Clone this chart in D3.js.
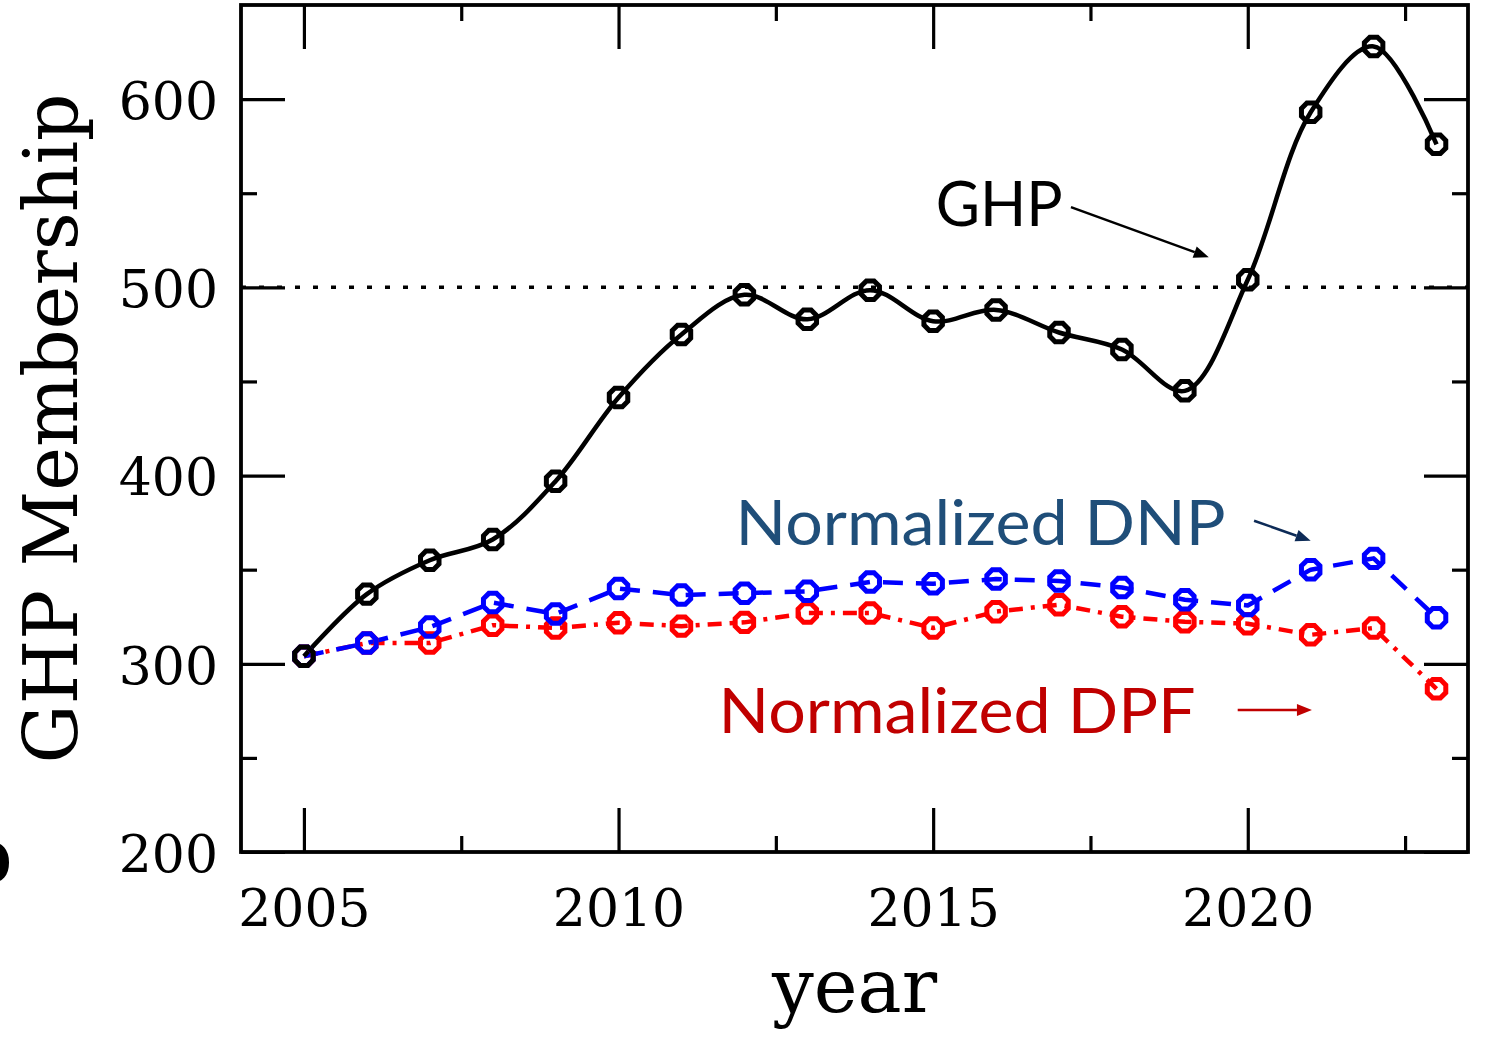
<!DOCTYPE html>
<html>
<head>
<meta charset="utf-8">
<script src="https://cdn.jsdelivr.net/npm/d3@7"></script>
<style>
  html, body { margin: 0; padding: 0; background: #fff; }
  svg { display: block; }
</style>
</head>
<body>
<svg id="chart" width="1486" height="1038"></svg>
<script>
// ---------------- data ----------------
const years = [2005, 2006, 2007, 2008, 2009, 2010, 2011, 2012, 2013, 2014,
               2015, 2016, 2017, 2018, 2019, 2020, 2021, 2022, 2023];
const ghp = [304, 337, 355, 366, 397, 441.5, 475, 496, 483, 498.5,
             482, 488, 476, 467, 445, 504, 593, 628, 576];
const dnp = [304, 311, 319.5, 332.5, 326.5, 340, 336.5, 337.5, 338.5, 343.5,
             342.5, 345, 344, 340.5, 334, 331, 350, 356, 324.5];
const dpf = [304, 311, 311, 320.5, 319, 321.8, 320, 322, 327, 327,
             319, 327.7, 331.4, 325, 322.3, 321.3, 315.4, 319, 286.7];
const xMajorTicks = [2005, 2010, 2015, 2020];
const xMinorTicks = [2007.5, 2012.5, 2017.5, 2022.5];
const yMajorTicks = [200, 300, 400, 500, 600];
const yMinorTicks = [250, 350, 450, 550];
const refLine = 500;

// ---------------- layout ----------------
const svg = d3.select("#chart");
const L = 241, R = 1468, T = 5, B = 852;
const x = d3.scaleLinear().domain([2004, 2023.5]).range([L, R]);
const y = d3.scaleLinear().domain([200, 650]).range([B, T]);

const serif = "'DejaVu Serif', serif";
const sans = "Lato, 'Open Sans', sans-serif";

// reference dotted line
svg.append("line")
  .attr("x1", x(2004)).attr("x2", x(2023.5))
  .attr("y1", y(refLine)).attr("y2", y(refLine))
  .attr("stroke", "#000").attr("stroke-width", 3.5)
  .attr("stroke-dasharray", "5,13");

// axes
function styleAxis(g) {
  g.select(".domain").remove();
  g.selectAll(".tick line").attr("stroke", "#000").attr("stroke-width", 3.2);
  g.selectAll(".tick text").attr("fill", "#000")
    .style("font-family", serif).style("font-size", "52px");
}
const majLen = 44, minLen = 16;
svg.append("g").attr("transform", `translate(0,${B})`)
  .call(d3.axisBottom(x).tickValues(xMajorTicks).tickSize(-majLen).tickPadding(37).tickFormat(d3.format("d")))
  .call(styleAxis);
svg.append("g").attr("transform", `translate(0,${B})`)
  .call(d3.axisBottom(x).tickValues(xMinorTicks).tickSize(-minLen).tickFormat(""))
  .call(styleAxis);
svg.append("g").attr("transform", `translate(0,${T})`)
  .call(d3.axisTop(x).tickValues(xMajorTicks).tickSize(-majLen).tickFormat(""))
  .call(styleAxis);
svg.append("g").attr("transform", `translate(0,${T})`)
  .call(d3.axisTop(x).tickValues(xMinorTicks).tickSize(-minLen).tickFormat(""))
  .call(styleAxis);
svg.append("g").attr("transform", `translate(${L},0)`)
  .call(d3.axisLeft(y).tickValues(yMajorTicks).tickSize(-majLen).tickPadding(23).tickFormat(d3.format("d")))
  .call(styleAxis)
  .call(g => g.selectAll(".tick text").attr("dy", "0.37em"));
svg.append("g").attr("transform", `translate(${L},0)`)
  .call(d3.axisLeft(y).tickValues(yMinorTicks).tickSize(-minLen).tickFormat(""))
  .call(styleAxis);
svg.append("g").attr("transform", `translate(${R},0)`)
  .call(d3.axisRight(y).tickValues(yMajorTicks).tickSize(-majLen).tickFormat(""))
  .call(styleAxis);
svg.append("g").attr("transform", `translate(${R},0)`)
  .call(d3.axisRight(y).tickValues(yMinorTicks).tickSize(-minLen).tickFormat(""))
  .call(styleAxis);

// frame
svg.append("rect")
  .attr("x", L).attr("y", T).attr("width", R - L).attr("height", B - T)
  .attr("fill", "none").attr("stroke", "#000").attr("stroke-width", 3.8);

// axis titles
svg.append("text")
  .attr("transform", `translate(77,${(T + B) / 2}) rotate(-90)`)
  .attr("text-anchor", "middle")
  .style("font-family", serif).style("font-size", "74px")
  .text("GHP Membership");
svg.append("text")
  .attr("x", (L + R) / 2).attr("y", 1012)
  .attr("text-anchor", "middle")
  .style("font-family", serif).style("font-size", "74px")
  .text("year");

// cropped panel letter at the far left edge (as in the reference)
svg.append("text")
  .attr("x", 12).attr("y", 882).attr("text-anchor", "end")
  .style("font-family", serif).style("font-size", "74px").style("font-weight", "bold")
  .text("b");

// series
const series = [
  { name: "DPF", values: dpf, color: "#ff0000", dash: "14,8,4,8", curve: d3.curveLinear, width: 4.5 },
  { name: "DNP", values: dnp, color: "#0000ff", dash: "20,13", curve: d3.curveLinear, width: 4.5 },
  { name: "GHP", values: ghp, color: "#000000", dash: null, curve: d3.curveCatmullRom.alpha(0.5), width: 4.5 }
];

function octagon(r) {
  const pts = d3.range(8).map(i => {
    const a = Math.PI / 8 + i * Math.PI / 4;
    return [r * Math.cos(a), r * Math.sin(a)];
  });
  return "M" + pts.map(p => p.join(",")).join("L") + "Z";
}

series.forEach(s => {
  const pts = years.map((yr, i) => [yr, s.values[i]]);
  const line = d3.line().x(d => x(d[0])).y(d => y(d[1])).curve(s.curve);
  svg.append("path")
    .attr("d", line(pts))
    .attr("fill", "none")
    .attr("stroke", s.color)
    .attr("stroke-width", s.width)
    .attr("stroke-dasharray", s.dash)
    .attr("stroke-linejoin", "round");
});
series.forEach(s => {
  svg.append("g").selectAll("path")
    .data(years.map((yr, i) => [yr, s.values[i]]))
    .join("path")
    .attr("transform", d => `translate(${x(d[0])},${y(d[1])})`)
    .attr("d", octagon(10))
    .attr("fill", "none")
    .attr("stroke", s.color)
    .attr("stroke-width", 5);
});

// annotations (positions in data space)
const annotations = [
  { text: "GHP", tx: 2015.04, ty: 532.4, width: 127, color: "#000000", arrowColor: "#000000",
    from: [2017.19, 542.6], to: [2019.38, 516] },
  { text: "Normalized DNP", tx: 2011.86, ty: 363.3, width: 490, color: "#1f4e79", arrowColor: "#0d2b57",
    from: [2020.10, 376], to: [2021.0, 365.4] },
  { text: "Normalized DPF", tx: 2011.59, ty: 263.3, width: 477, color: "#c00000", arrowColor: "#c00000",
    from: [2019.84, 275.5], to: [2021.02, 275.5] }
];
annotations.forEach(a => {
  svg.append("text")
    .attr("x", x(a.tx)).attr("y", y(a.ty))
    .attr("fill", a.color)
    .attr("textLength", a.width).attr("lengthAdjust", "spacingAndGlyphs")
    .style("font-family", sans).style("font-size", "62px")
    .text(a.text);
  const x1 = x(a.from[0]), y1 = y(a.from[1]), x2 = x(a.to[0]), y2 = y(a.to[1]);
  const ang = Math.atan2(y2 - y1, x2 - x1);
  const hl = 15, hw = 6;
  const bx = x2 - hl * Math.cos(ang), by = y2 - hl * Math.sin(ang);
  svg.append("line")
    .attr("x1", x1).attr("y1", y1).attr("x2", bx).attr("y2", by)
    .attr("stroke", a.arrowColor).attr("stroke-width", 2.5);
  const px = -Math.sin(ang), py = Math.cos(ang);
  svg.append("path")
    .attr("d", `M${x2},${y2}L${bx + hw * px},${by + hw * py}L${bx - hw * px},${by - hw * py}Z`)
    .attr("fill", a.arrowColor);
});
</script>
</body>
</html>
